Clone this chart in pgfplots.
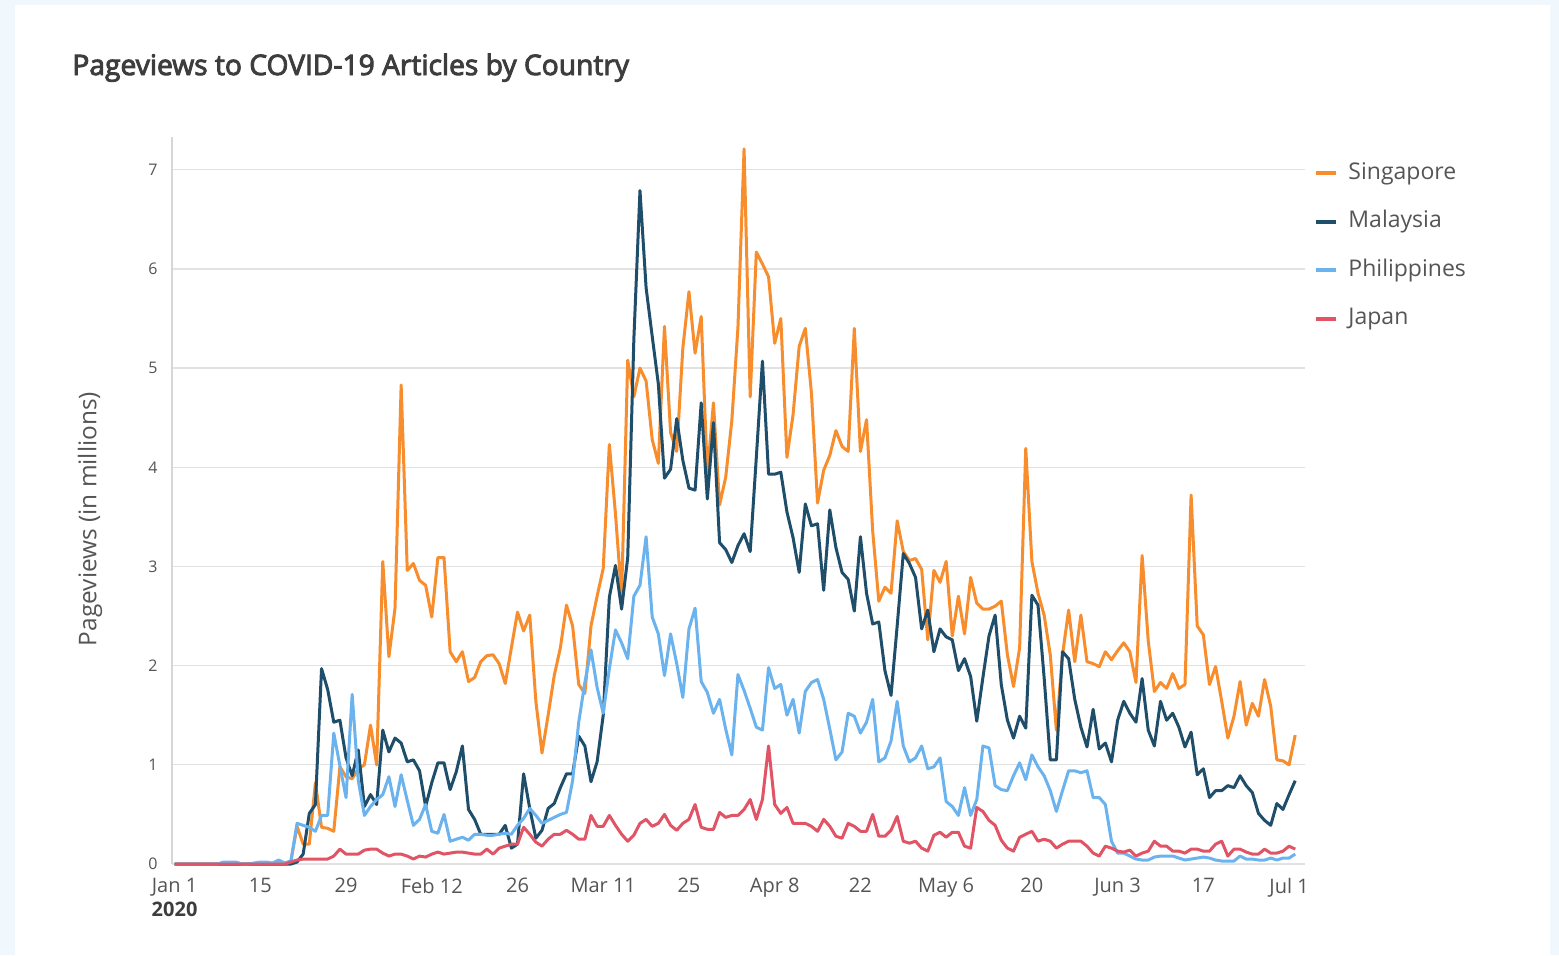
\documentclass[border=0pt]{standalone}
\usepackage{fontspec}
\setmainfont{Open Sans}
\newfontfamily\titlefont{Open Sans}[FakeBold=3.2]
\usepackage{pgfplots}
\usepackage{pgfplotstable}
\pgfplotsset{compat=1.18}
\definecolor{bgblue}{HTML}{F0F7FD}
\definecolor{sgc}{HTML}{F78D2D}
\definecolor{myc}{HTML}{1F4E6B}
\definecolor{phc}{HTML}{6BB3EF}
\definecolor{jpc}{HTML}{E05465}
\definecolor{gridc}{HTML}{E2E2E2}
\definecolor{axc}{HTML}{D6D6D6}
\definecolor{tickc}{HTML}{555555}
\definecolor{titlec}{HTML}{3D3D3D}

\pgfplotstableread{
d sg my ph jp
0 0 0 0 0
1 0 0 0 0
2 0 0 0 0
3 0 0 0 0
4 0 0 0 0
5 0 0 0 0
6 0 0 0 0
7 0 0 0 0
8 0 0 0.02 0
9 0 0 0.02 0
10 0 0 0.02 0
11 0 0 0 0
12 0 0 0 0
13 0 0 0.01 0
14 0 0 0.02 0
15 0 0 0.02 0
16 0 0 0.01 0
17 0 0 0.04 0
18 0 0 0.01 0
19 0.03 0 0.03 0.02
20 0.38 0.02 0.41 0.04
21 0.20 0.10 0.39 0.05
22 0.20 0.51 0.37 0.05
23 0.82 0.60 0.33 0.05
24 0.37 1.97 0.49 0.05
25 0.36 1.76 0.49 0.05
26 0.33 1.43 1.32 0.08
27 0.98 1.45 0.99 0.15
28 0.88 1.07 0.67 0.10
29 0.86 0.89 1.71 0.10
30 0.96 1.15 0.84 0.10
31 1.00 0.58 0.49 0.14
32 1.40 0.70 0.58 0.15
33 1.00 0.60 0.65 0.15
34 3.05 1.35 0.70 0.11
35 2.09 1.13 0.88 0.08
36 2.58 1.27 0.58 0.10
37 4.83 1.22 0.90 0.10
38 2.96 1.03 0.64 0.08
39 3.03 1.05 0.39 0.05
40 2.86 0.94 0.45 0.08
41 2.81 0.58 0.60 0.07
42 2.49 0.82 0.33 0.10
43 3.09 1.02 0.31 0.12
44 3.09 1.02 0.50 0.10
45 2.14 0.75 0.23 0.11
46 2.04 0.93 0.25 0.12
47 2.14 1.19 0.27 0.12
48 1.84 0.55 0.24 0.11
49 1.88 0.45 0.30 0.10
50 2.04 0.30 0.30 0.10
51 2.10 0.30 0.29 0.15
52 2.11 0.30 0.29 0.10
53 2.02 0.30 0.30 0.16
54 1.82 0.39 0.31 0.18
55 2.18 0.16 0.30 0.20
56 2.54 0.20 0.39 0.20
57 2.35 0.91 0.46 0.37
58 2.51 0.56 0.56 0.30
59 1.64 0.26 0.49 0.22
60 1.12 0.34 0.41 0.18
61 1.50 0.56 0.44 0.25
62 1.90 0.61 0.47 0.30
63 2.18 0.77 0.50 0.30
64 2.61 0.91 0.52 0.34
65 2.40 0.91 0.84 0.30
66 1.81 1.29 1.43 0.25
67 1.72 1.19 1.83 0.25
68 2.40 0.83 2.16 0.49
69 2.70 1.03 1.78 0.38
70 2.98 1.50 1.52 0.38
71 4.23 2.69 1.97 0.49
72 3.53 3.01 2.36 0.39
73 2.70 2.57 2.23 0.30
74 5.08 3.09 2.07 0.23
75 4.71 5.29 2.70 0.29
76 5.00 6.79 2.81 0.41
77 4.87 5.81 3.30 0.45
78 4.28 5.32 2.49 0.38
79 4.04 4.84 2.32 0.41
80 5.42 3.89 1.90 0.50
81 4.35 3.98 2.32 0.39
82 4.16 4.49 2.02 0.34
83 5.20 4.07 1.68 0.41
84 5.77 3.79 2.37 0.45
85 5.15 3.77 2.58 0.60
86 5.52 4.65 1.84 0.37
87 3.93 3.68 1.73 0.35
88 4.65 4.45 1.52 0.35
89 3.62 3.24 1.66 0.52
90 3.90 3.17 1.36 0.47
91 4.47 3.04 1.10 0.49
92 5.41 3.21 1.91 0.49
93 7.21 3.33 1.75 0.55
94 4.71 3.15 1.57 0.65
95 6.17 4.10 1.38 0.45
96 6.05 5.07 1.35 0.65
97 5.92 3.93 1.98 1.19
98 5.25 3.93 1.77 0.60
99 5.50 3.95 1.81 0.51
100 4.10 3.55 1.50 0.57
101 4.53 3.29 1.66 0.41
102 5.22 2.94 1.32 0.41
103 5.40 3.63 1.74 0.41
104 4.75 3.41 1.83 0.38
105 3.64 3.43 1.86 0.33
106 3.97 2.76 1.66 0.45
107 4.12 3.57 1.36 0.38
108 4.37 3.19 1.05 0.28
109 4.21 2.94 1.13 0.26
110 4.16 2.87 1.52 0.41
111 5.40 2.55 1.49 0.38
112 4.16 3.30 1.32 0.33
113 4.48 2.73 1.43 0.33
114 3.36 2.42 1.66 0.50
115 2.65 2.44 1.03 0.28
116 2.79 1.95 1.07 0.28
117 2.73 1.70 1.24 0.34
118 3.46 2.40 1.64 0.48
119 3.15 3.13 1.19 0.23
120 3.06 3.03 1.03 0.21
121 3.08 2.89 1.07 0.23
122 2.97 2.37 1.19 0.16
123 2.26 2.56 0.96 0.13
124 2.96 2.14 0.98 0.29
125 2.84 2.37 1.07 0.32
126 3.05 2.29 0.63 0.27
127 2.30 2.26 0.58 0.32
128 2.70 1.95 0.49 0.32
129 2.32 2.07 0.77 0.18
130 2.89 1.89 0.49 0.16
131 2.63 1.44 0.65 0.57
132 2.57 1.88 1.19 0.53
133 2.57 2.30 1.17 0.44
134 2.60 2.51 0.79 0.39
135 2.65 1.81 0.75 0.24
136 2.11 1.45 0.74 0.16
137 1.79 1.27 0.89 0.13
138 2.18 1.49 1.02 0.27
139 4.19 1.37 0.85 0.30
140 3.05 2.71 1.10 0.33
141 2.73 2.61 0.98 0.23
142 2.51 1.88 0.89 0.25
143 2.11 1.05 0.74 0.23
144 1.35 1.05 0.53 0.16
145 2.11 2.14 0.74 0.20
146 2.56 2.07 0.94 0.23
147 2.04 1.66 0.94 0.23
148 2.51 1.38 0.92 0.23
149 2.04 1.18 0.94 0.18
150 2.02 1.56 0.67 0.11
151 1.99 1.16 0.67 0.08
152 2.14 1.22 0.60 0.18
153 2.06 1.03 0.23 0.16
154 2.15 1.45 0.11 0.13
155 2.23 1.64 0.11 0.12
156 2.14 1.52 0.08 0.14
157 1.83 1.43 0.05 0.08
158 3.11 1.87 0.04 0.11
159 2.25 1.35 0.04 0.13
160 1.74 1.19 0.07 0.23
161 1.83 1.64 0.08 0.18
162 1.77 1.45 0.08 0.18
163 1.92 1.52 0.08 0.13
164 1.77 1.38 0.06 0.13
165 1.81 1.18 0.04 0.11
166 3.72 1.33 0.05 0.15
167 2.40 0.90 0.06 0.15
168 2.31 0.96 0.07 0.13
169 1.81 0.67 0.06 0.13
170 1.99 0.74 0.04 0.20
171 1.64 0.74 0.03 0.23
172 1.27 0.79 0.03 0.08
173 1.49 0.77 0.03 0.15
174 1.84 0.89 0.08 0.15
175 1.40 0.79 0.05 0.12
176 1.62 0.72 0.05 0.10
177 1.49 0.51 0.04 0.10
178 1.86 0.44 0.04 0.15
179 1.59 0.39 0.06 0.11
180 1.05 0.61 0.04 0.11
181 1.04 0.55 0.06 0.13
182 1.00 0.70 0.06 0.18
183 1.30 0.84 0.10 0.15
}\data

\begin{document}
\begin{tikzpicture}
\fill[bgblue] (0pt,0pt) rectangle (779.5pt,-477.5pt);
\fill[white] (7.5pt,-2.5pt) rectangle (775pt,-477.5pt);
\node[anchor=base west, inner sep=0pt, text=titlec, font=\titlefont\fontsize{14.1}{17}\selectfont] at (36pt,-37.5pt) {Pageviews to COVID-19 Articles by Country};
\node[rotate=90, inner sep=0pt, text=tickc, font=\fontsize{12.2}{14}\selectfont] at (45pt,-259.5pt) {Pageviews (in millions)};
\begin{axis}[
  at={(86pt,-432pt)}, anchor=south west,
  scale only axis, width=566.5pt, height=363.5pt,
  xmin=-0.42, xmax=184.6, ymin=0, ymax=7.33,
  clip=false,
  axis x line*=bottom, axis y line*=left,
  x axis line style={draw=none},
  y axis line style={draw=axc, line width=0.6pt, -},
  tick style={draw=none},
  ymajorgrids, grid style={draw=gridc, line width=0.6pt},
  xtick={0,14,...,182},
  xticklabels={Jan 1\\{\bfseries\color{titlec}2020},15,29,Feb 12,26,Mar 11,25,Apr 8,22,May 6,20,Jun 3,17,Jul 1},
  xticklabel style={align=center, anchor=north, inner sep=0pt, yshift=-7pt, text=tickc, font=\fontsize{10}{12}\selectfont},
  ytick={0,1,...,7},
  yticklabel style={anchor=east, inner sep=0pt, xshift=-7pt, text=tickc, font=\fontsize{8}{10}\selectfont},
  /pgf/number format/assume math mode=true,
  legend style={at={(1.008,0.967)}, anchor=north west, draw=none, fill=none, inner sep=0pt,
    font=\fontsize{11.5}{14}\selectfont, text=tickc, row sep=12.25pt, column sep=5pt,
    nodes={inner sep=0pt, text height=9pt, text depth=3pt}},
  legend cell align=left,
  legend image code/.code={\draw[#1, line width=2pt] (0pt,0pt) -- (10pt,0pt);},
  every axis plot/.append style={line width=1.5pt, line join=round, mark=none},
]
\addplot[sgc] table[x=d, y=sg] {\data};
\addlegendentry{Singapore}
\addplot[myc] table[x=d, y=my] {\data};
\addlegendentry{Malaysia}
\addplot[phc] table[x=d, y=ph] {\data};
\addlegendentry{Philippines}
\addplot[jpc] table[x=d, y=jp] {\data};
\addlegendentry{Japan}
\end{axis}
\end{tikzpicture}
\end{document}
